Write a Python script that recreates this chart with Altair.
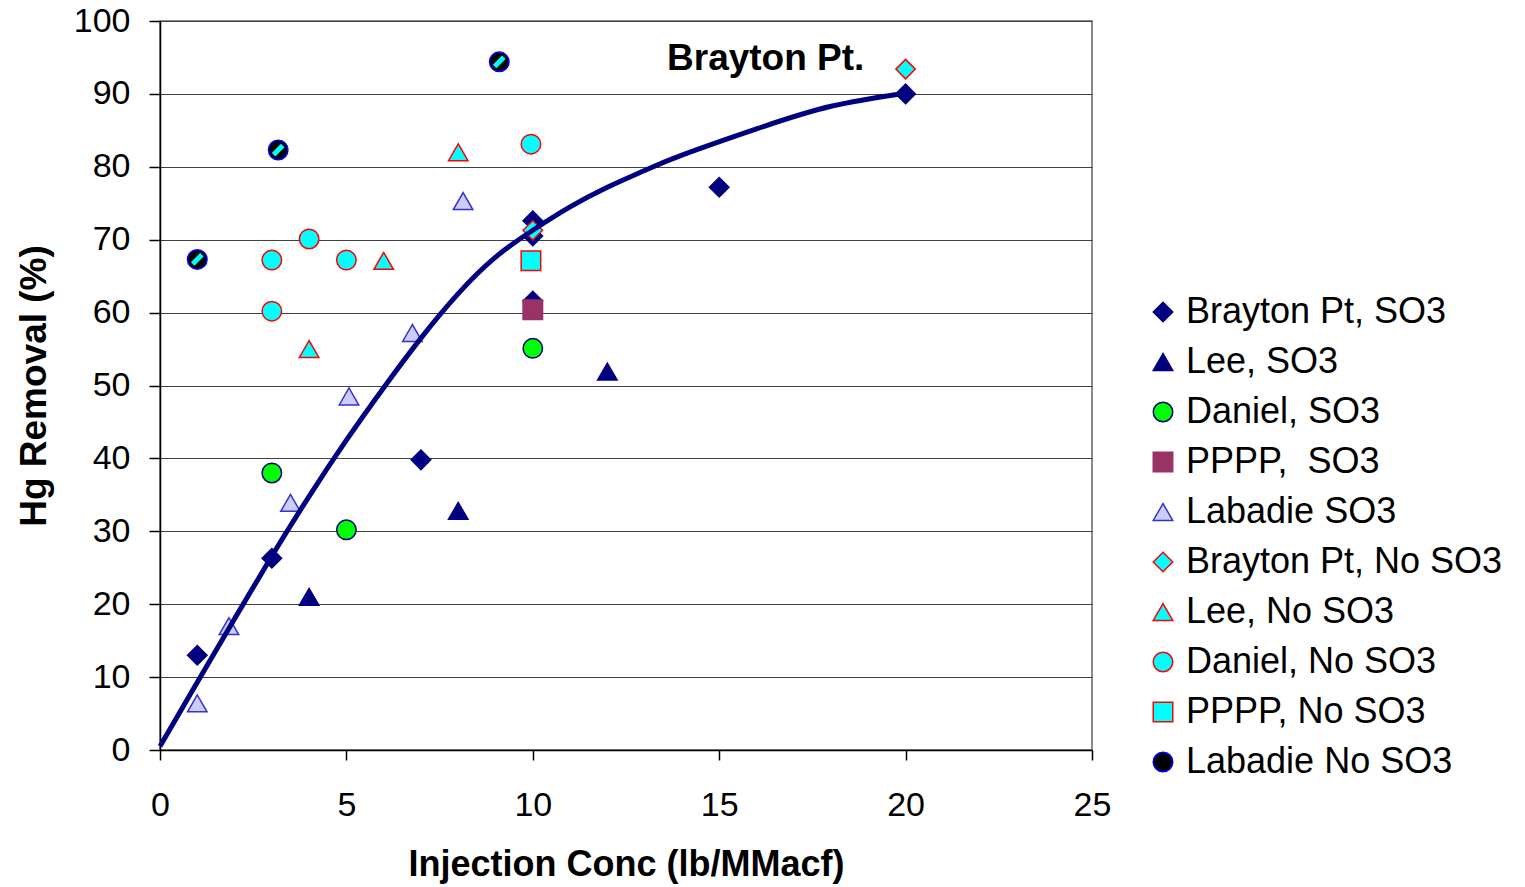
import altair as alt
import pandas as pd

# Series names in legend order
series_names = [
    "Brayton Pt, SO3",
    "Lee, SO3",
    "Daniel, SO3",
    "PPPP,\u00a0 SO3",
    "Labadie SO3",
    "Brayton Pt, No SO3",
    "Lee, No SO3",
    "Daniel, No SO3",
    "PPPP, No SO3",
    "Labadie No SO3",
]

# Injection concentration (lb/MMacf) and Hg removal (%) per series
brayton_so3_x = [1, 3, 7, 10, 10, 10, 15, 20]
brayton_so3_y = [13, 26.3, 39.8, 72.6, 70.5, 61.6, 77.2, 90]
lee_so3_x = [4, 8, 12]
lee_so3_y = [21, 32.8, 51.9]
daniel_so3_x = [3, 5, 10]
daniel_so3_y = [38, 30.2, 55.1]
pppp_so3_x = [10]
pppp_so3_y = [60.4]
labadie_so3_x = [1, 1.85, 3.5, 5.07, 6.77, 8.13]
labadie_so3_y = [6.4, 17.0, 33.9, 48.5, 57.2, 75.3]
brayton_noso3_x = [10, 20]
brayton_noso3_y = [71.3, 93.4]
lee_noso3_x = [4, 6, 8]
lee_noso3_y = [55.0, 67.1, 82.0]
daniel_noso3_x = [3, 3, 4, 5, 9.95]
daniel_noso3_y = [67.2, 60.2, 70.1, 67.2, 83.1]
pppp_noso3_x = [9.95]
pppp_noso3_y = [67.1]
labadie_noso3_x = [1, 3.17, 9.1]
labadie_noso3_y = [67.3, 82.3, 94.4]

# Brayton Pt. trend curve
trend_x = [0, 1, 2, 3, 4, 5, 6, 7, 8, 9, 10, 11, 12, 13, 14, 16, 18, 20]
trend_y = [0.5, 9.3, 18.0, 26.6, 34.8, 42.5, 49.7, 56.5, 62.6, 67.6, 71.3,
           74.5, 77.2, 79.5, 81.6, 85.2, 88.3, 90.1]

# Annotation
note_text = "Brayton Pt."
note_x = 13.6
note_y = 94.8

# Marker styles per series
shapes = ["diamond", "triangle-up", "circle", "square", "triangle-up",
          "diamond", "triangle-up", "circle", "square", "circle"]
fills = ["#000080", "#000080", "#00FF00", "#993366", "#CCCCFF",
         "#00FFFF", "#00FFFF", "#00FFFF", "#00FFFF", "#000000"]
strokes = ["#000080", "#000080", "#000080", "#993366", "#3333CC",
           "#FF0000", "#FF0000", "#FF0000", "#FF0000", "#0000FF"]

xs = [brayton_so3_x, lee_so3_x, daniel_so3_x, pppp_so3_x, labadie_so3_x,
      brayton_noso3_x, lee_noso3_x, daniel_noso3_x, pppp_noso3_x, labadie_noso3_x]
ys = [brayton_so3_y, lee_so3_y, daniel_so3_y, pppp_so3_y, labadie_so3_y,
      brayton_noso3_y, lee_noso3_y, daniel_noso3_y, pppp_noso3_y, labadie_noso3_y]

rows = []
for name, sx, sy in zip(series_names, xs, ys):
    for a, b in zip(sx, sy):
        rows.append({"series": name, "conc": a, "removal": b})
points_df = pd.DataFrame(rows)
trend_df = pd.DataFrame({"conc": trend_x, "removal": trend_y})
stripe_df = pd.DataFrame({"conc": labadie_noso3_x, "removal": labadie_noso3_y})
note_df = pd.DataFrame({"conc": [note_x], "removal": [note_y], "label": [note_text]})

FONT = "Liberation Sans"

x_scale = alt.Scale(domain=[0, 25], nice=False)
y_scale = alt.Scale(domain=[0, 100], nice=False)

x_axis = alt.Axis(
    title="Injection Conc (lb/MMacf)", values=list(range(0, 26, 5)), grid=False,
    tickSize=10, labelPadding=28, labelFontSize=34, labelFlush=False,
    titleFontSize=36, titleFontWeight="bold", titlePadding=25,
    labelFont=FONT, titleFont=FONT,
)
y_axis = alt.Axis(
    title="Hg Removal (%)", values=list(range(0, 101, 10)), grid=True,
    tickSize=11, labelPadding=19, labelFontSize=34,
    titleFontSize=37, titleFontWeight="bold", titlePadding=20,
    labelFont=FONT, titleFont=FONT,
)

legend = alt.Legend(
    title=None, orient="none", legendX=985, legendY=273, padding=0,
    labelFont=FONT, labelFontSize=36, labelLimit=500, labelOffset=5,
    symbolSize=380, symbolStrokeWidth=1.5, rowPadding=14,
)

points = alt.Chart(points_df).mark_point(filled=True, size=380, strokeWidth=1.5, opacity=1).encode(
    x=alt.X("conc:Q", scale=x_scale, axis=x_axis),
    y=alt.Y("removal:Q", scale=y_scale, axis=y_axis),
    shape=alt.Shape("series:N", scale=alt.Scale(domain=series_names, range=shapes), legend=legend),
    fill=alt.Fill("series:N", scale=alt.Scale(domain=series_names, range=fills), legend=legend),
    stroke=alt.Stroke("series:N", scale=alt.Scale(domain=series_names, range=strokes), legend=legend),
)

# cyan hatch stripe on the Labadie No SO3 markers
stripes = alt.Chart(stripe_df).mark_point(
    shape="M-0.5,0.5L0.5,-0.5", filled=False, size=340,
    stroke="#00FFFF", strokeWidth=5, opacity=1,
).encode(
    x=alt.X("conc:Q", scale=x_scale),
    y=alt.Y("removal:Q", scale=y_scale),
)

trend = alt.Chart(trend_df).mark_line(
    color="#000080", strokeWidth=5, interpolate="natural"
).encode(
    x=alt.X("conc:Q", scale=x_scale),
    y=alt.Y("removal:Q", scale=y_scale),
)

note = alt.Chart(note_df).mark_text(
    align="left", baseline="middle", font=FONT, fontSize=37, fontWeight="bold", color="black"
).encode(
    x=alt.X("conc:Q", scale=x_scale),
    y=alt.Y("removal:Q", scale=y_scale),
    text="label:N",
)

chart = alt.layer(points, stripes, trend, note).properties(
    width=932, height=729,
    padding={"left": 160, "top": 21, "right": 433, "bottom": 137},
    autosize=alt.AutoSizeParams(type="none"),
    background="white",
).configure_view(
    stroke="#666666", strokeWidth=1.5
).configure_axis(
    domainColor="black", domainWidth=1.5, tickColor="black", tickWidth=1.5,
    gridColor="#404040", gridWidth=1.2, labelColor="black", titleColor="black",
)

chart.save("out.html", embed_options={"renderer": "svg", "actions": False})
